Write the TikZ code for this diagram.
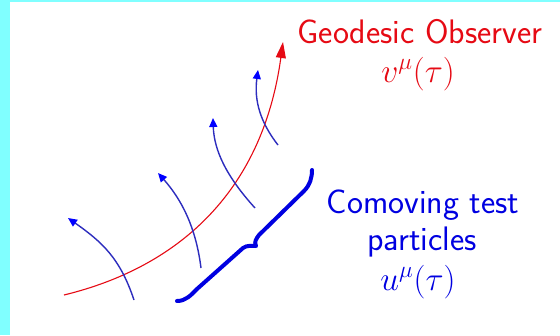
\documentclass[tikz,border=0pt]{standalone}
\usepackage{graphicx}
\usetikzlibrary{arrows.meta}
\definecolor{bgcyan}{RGB}{128,255,255}
\definecolor{obsred}{RGB}{230,10,20}
\definecolor{txtblue}{RGB}{0,0,225}
\definecolor{wlblue}{RGB}{45,45,190}
\newcommand{\bigmath}[1]{\scalebox{1.62}{$#1$}}
\begin{document}
\begin{tikzpicture}[x=1pt,y=-1pt,
  worldline/.style={wlblue,line width=1.4pt,-{Triangle[length=9pt,width=8pt,color=blue]}},
  observer/.style={obsred,line width=1.1pt,-{Triangle[length=16pt,width=10pt]}},
  bracestyle/.style={txtblue,line width=4pt,line cap=round,line join=round},
  lbl/.style={anchor=base,inner sep=0pt,font=\fontsize{34}{40}\selectfont\sffamily},
  mlbl/.style={anchor=base,inner sep=0pt,font=\fontsize{20.74}{25}\selectfont}]
\useasboundingbox (0,0) rectangle (560,335);
\fill[bgcyan] (0,0) rectangle (560,335);
\fill[white] (10,2) rectangle (560,335);
% observer worldline
\coordinate (o0) at (64,295);
\coordinate (o1) at (283,42);
\draw[observer] (o0) .. controls (175,268) and (262,195) .. (o1);
% test particle worldlines
\coordinate (a0) at (134,300); \coordinate (a1) at (68,218);
\coordinate (b0) at (201,268); \coordinate (b1) at (158,173);
\coordinate (c0) at (255,208); \coordinate (c1) at (213,118);
\coordinate (d0) at (278,145); \coordinate (d1) at (258,70);
\draw[worldline] (a0) .. controls (120,258) and (102,242) .. (a1);
\draw[worldline] (b0) .. controls (196,228) and (182,200) .. (b1);
\draw[worldline] (c0) .. controls (226,176) and (214,150) .. (c1);
\draw[worldline] (d0) .. controls (260,122) and (254,100) .. (d1);
% brace
\coordinate (br0) at (177,301);
\coordinate (brm) at (256,246);
\coordinate (br1) at (312,170);
\draw[bracestyle] (br0) .. controls (186,301) and (191,295) .. (197,289)
  -- (243,248) .. controls (247,245) and (252,246) .. (brm)
  .. controls (254,242) and (256,239) .. (259,235)
  -- (304,191) .. controls (310,185) and (312,178) .. (br1);
% labels
\node[lbl,obsred] (obs) at (420,43) {Geodesic Observer};
\node[mlbl,obsred] (obsv) at (418,82) {\bigmath{v^\mu(\tau)}};
\node[lbl,txtblue] (part1) at (423,213) {Comoving test};
\node[lbl,txtblue] (part2) at (422,250) {particles};
\node[mlbl,txtblue] (partu) at (418,290) {\bigmath{u^\mu(\tau)}};
\end{tikzpicture}
\end{document}
